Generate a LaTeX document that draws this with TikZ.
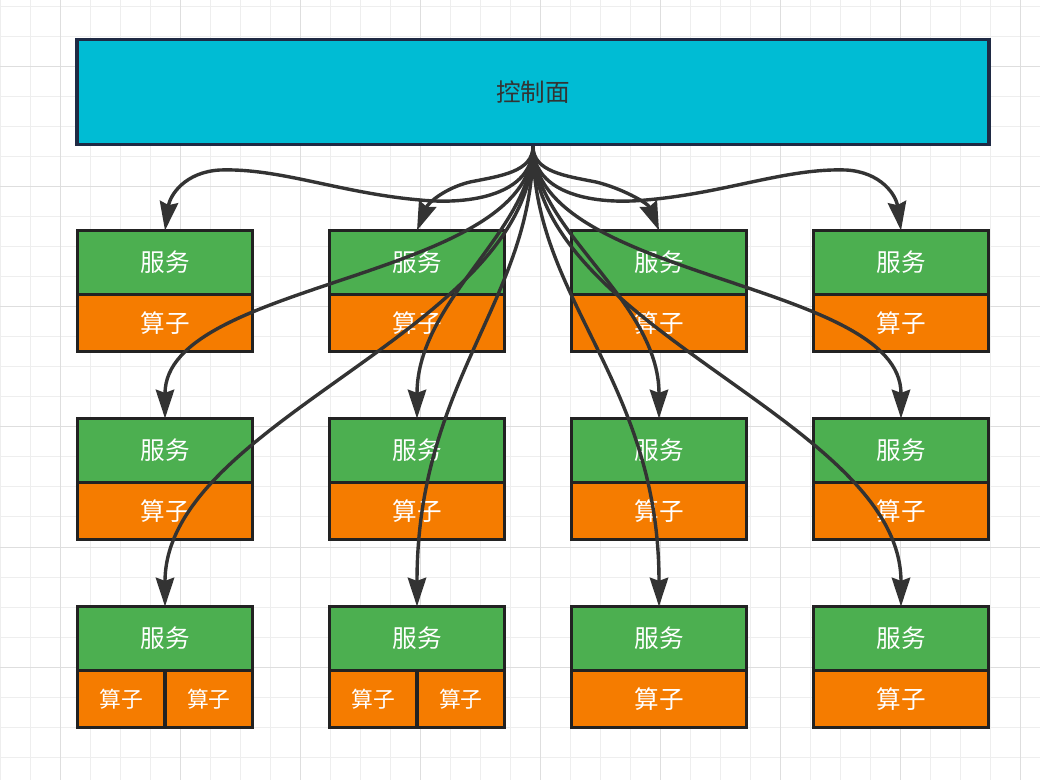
\documentclass[tikz,border=0pt]{standalone}
\usepackage{fontspec}
\setmainfont{Noto Sans CJK SC}
\usepackage{tikz}
\usetikzlibrary{arrows.meta}
\usetikzlibrary{positioning}

\definecolor{ctlblue}{HTML}{00BCD4}
\definecolor{svcgreen}{HTML}{4CAF50}
\definecolor{opsorange}{HTML}{F57C00}
\definecolor{edgegray}{HTML}{333333}
\definecolor{boxline}{HTML}{222222}
\definecolor{ctlline}{HTML}{1F2A44}
\definecolor{gridminor}{HTML}{EEEEEE}
\definecolor{gridmajor}{HTML}{DEDEDE}

\begin{document}
\begin{tikzpicture}[x=0.025cm, y=-0.025cm,
    svc/.style={draw=boxline, line width=0.09cm, fill=svcgreen, text=white,
                outer sep=0pt, inner sep=0pt, minimum width=4.38cm,
                minimum height=1.6cm, font=\fontsize{17.5}{20}\selectfont},
    ops/.style={svc, fill=opsorange, minimum height=1.425cm},
    halfops/.style={ops, minimum width=2.19cm, font=\fontsize{15.5}{18}\selectfont},
    flow/.style={draw=edgegray, line width=0.085cm,
                 -{Stealth[length=0.72cm, width=0.46cm, inset=0.08cm]}}]

\useasboundingbox (0,0) rectangle (1040,780);
\fill[white] (0,0) rectangle (1040,780);

% background grid
\begin{scope}[line width=0.025cm]
    \foreach \x in {0,30,...,1020}
        \draw[gridminor] (\x,0) -- (\x,780);
    \foreach \y in {7,37,...,757}
        \draw[gridminor] (0,\y) -- (1040,\y);
    \foreach \x in {60,180,...,1020}
        \draw[gridmajor] (\x,0) -- (\x,780);
    \foreach \y in {67,187,...,667}
        \draw[gridmajor] (0,\y) -- (1040,\y);
\end{scope}

\node[draw=ctlline, line width=0.09cm, fill=ctlblue, text=edgegray,
      minimum width=22.78cm, minimum height=2.62cm,
      font=\fontsize{17.5}{20}\selectfont] (cp) at (533,92) {控制面};

% services, first two rows
\foreach \c/\x in {1/165, 2/417, 3/659, 4/901} {
    \node[svc] (s1\c) at (\x,262.5) {服务};
    \node[ops, below=0pt of s1\c] (o1\c) {算子};
    \node[svc] (s2\c) at (\x,450.5) {服务};
    \node[ops, below=0pt of s2\c] (o2\c) {算子};
}

% last row
\foreach \c/\x in {1/165, 2/417} {
    \node[svc] (s3\c) at (\x,638.5) {服务};
    \node[halfops, below right=0pt of s3\c.south west] (o3\c a) {算子};
    \node[halfops, below left=0pt of s3\c.south east] (o3\c b) {算子};
}
\foreach \c/\x in {3/659, 4/901} {
    \node[svc] (s3\c) at (\x,638.5) {服务};
    \node[ops, below=0pt of s3\c] (o3\c) {算子};
}

% links from the control plane
\draw[flow] (cp.south) .. controls (533,195) and (470,205) .. (420,200)
    .. controls (340,193) and (280,168) .. (220,170)
    .. controls (185,172) and (170,195) .. (s11.north);
\draw[flow] (cp.south) .. controls (533,172) and (500,176) .. (470,182)
    .. controls (445,188) and (428,203) .. (s12.north);
\draw[flow] (cp.south) .. controls (533,172) and (566,176) .. (596,182)
    .. controls (621,188) and (648,203) .. (s13.north);
\draw[flow] (cp.south) .. controls (533,195) and (596,205) .. (646,200)
    .. controls (726,193) and (786,168) .. (846,170)
    .. controls (881,172) and (896,195) .. (s14.north);
\foreach \t/\ay/\bx/\by in {s21/280/165/280, s22/230/417/300,
                            s23/230/659/300, s24/280/901/280,
                            s31/330/165/420, s32/300/417/380,
                            s33/300/659/380, s34/330/901/420}
    \draw[flow] (cp.south) .. controls (533,\ay) and (\bx,\by) .. (\t.north);
\end{tikzpicture}
\end{document}
